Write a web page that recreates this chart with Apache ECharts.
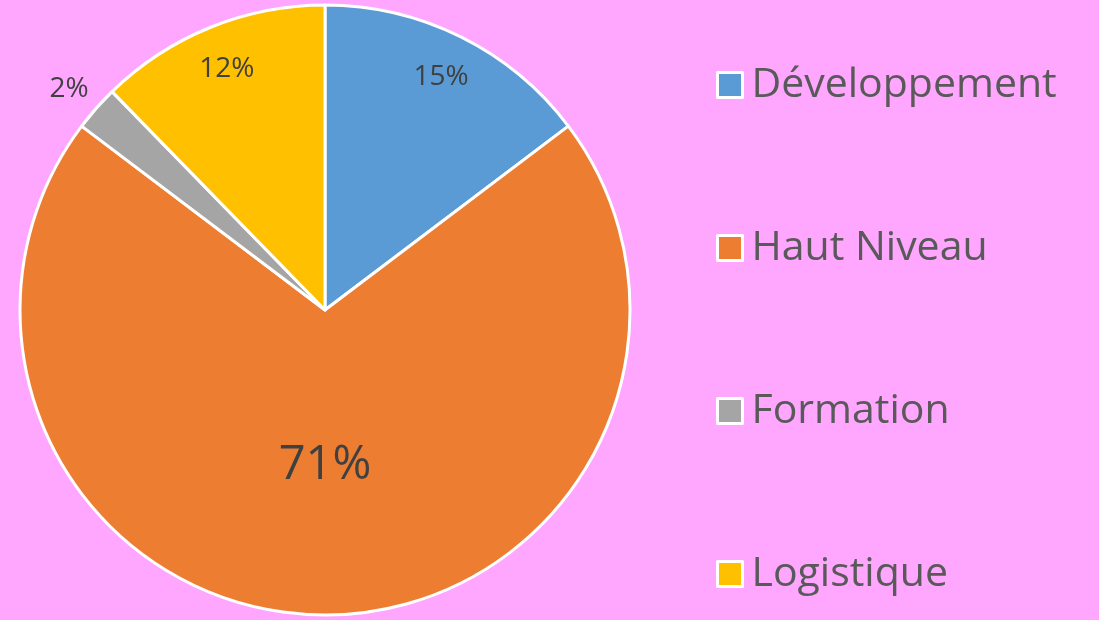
<!DOCTYPE html>
<html>
<head>
<meta charset="utf-8">
<script src="https://cdn.jsdelivr.net/npm/echarts@6/dist/echarts.min.js"></script>
<style>
    html, body {margin: 0; padding: 0; background: #FFA6FF;}
    #chart {width: 1099px; height: 620px;}
</style>
</head>
<body>
<div id="chart"></div>
<script>
// parts of the budget, clockwise from the top
const categories = ['Développement', 'Haut Niveau', 'Formation', 'Logistique'];
const shares = [14.7, 70.6, 2.4, 12.3];
const colors = ['#5B9BD5', '#ED7D31', '#A5A5A5', '#FFC000'];

const pctLabel = (p) => Math.round(p.percent) + '%';
const font = '"Open Sans", sans-serif';

// main pie: only the big slice (inside) and the tiny one (outside) carry labels here
let mainData = categories.map((name, i) => {
    let item = {name: name, value: shares[i], itemStyle: {color: colors[i]}};
    if (i === 1) {
        item.label = {show: true, position: 'inside', fontSize: 47, color: '#404040', formatter: pctLabel};
    } else if (i === 2) {
        // empty second line lifts the text a bit above the slice
        item.label = {show: true, position: 'outside', fontSize: 28, lineHeight: 26, color: '#404040',
            formatter: (p) => pctLabel(p) + '\n ', distanceToLabelLine: 0};
        item.labelLine = {show: false, length: 10, length2: 0};
    } else {
        item.label = {show: false};
    }
    return item;
});

// transparent ring, only used to place the labels of the two upper slices near the rim
let ringData = categories.map((name, i) => ({
    name: name,
    value: shares[i],
    label: {show: i === 0 || i === 3}
}));

let option = {
    backgroundColor: '#FFA6FF',
    textStyle: {fontFamily: font},
    animation: false,
    legend: {
        orient: 'vertical',
        left: 711,
        top: 59,
        itemGap: 121,
        itemWidth: 25,
        itemHeight: 25,
        icon: 'rect',
        itemStyle: {borderColor: '#fff', borderWidth: 3},
        textStyle: {fontSize: 41, color: '#595959', fontFamily: font, lineHeight: 42, padding: [0, 0, 0, 4]},
        data: categories
    },
    series: [
        {
            type: 'pie',
            center: [325, 310],
            radius: [0, 305],
            startAngle: 90,
            clockwise: true,
            avoidLabelOverlap: false,
            itemStyle: {borderColor: '#fff', borderWidth: 3},
            emphasis: {disabled: true},
            label: {fontFamily: font},
            data: mainData
        },
        {
            type: 'pie',
            center: [325, 310],
            radius: [210, 305],
            startAngle: 90,
            clockwise: true,
            silent: true,
            avoidLabelOverlap: false,
            itemStyle: {color: 'transparent', borderWidth: 0},
            emphasis: {disabled: true},
            label: {position: 'inside', fontSize: 28, color: '#404040', fontFamily: font, formatter: pctLabel},
            labelLine: {show: false},
            data: ringData
        }
    ]
};

let chart = echarts.init(document.getElementById('chart'));
chart.setOption(option);
</script>
</body>
</html>
